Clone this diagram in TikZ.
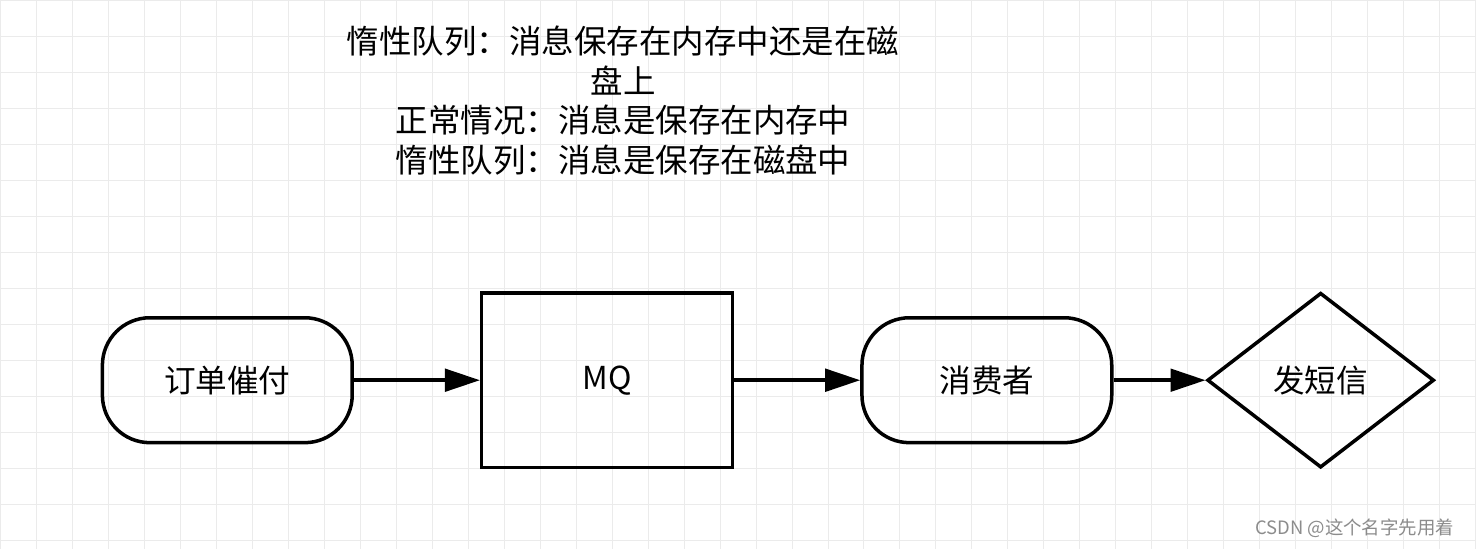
\documentclass[tikz,border=0pt]{standalone}
\usepackage{fontspec}
\setmainfont{Noto Sans CJK SC}
\usetikzlibrary{positioning}
\usetikzlibrary{arrows.meta,shapes.geometric}

\tikzset{
  box/.style={draw, line width=2pt, minimum width=5cm, font=\fontsize{18}{21}\selectfont},
  pill/.style={box, minimum height=2.5cm, rounded corners=0.95cm},
  flow/.style={line width=2pt, -{Triangle[length=0.7cm,width=0.45cm]}}
}

\begin{document}
\begin{tikzpicture}[x=0.02cm, y=-0.02cm]

% background and grid
\fill[white] (0,0) rectangle (1476,549);
\foreach \g in {0,36,...,1476}
  \draw[black!8, line width=0.5pt] (\g,0) -- (\g,549);
\foreach \g in {0,36,...,549}
  \draw[black!8, line width=0.5pt] (0,\g) -- (1476,\g);

% note
\node[align=center, font=\fontsize{18.5}{22.5}\selectfont] (note) at (623,100)
  {惰性队列：消息保存在内存中还是在磁\\盘上\\正常情况：消息是保存在内存中\\惰性队列：消息是保存在磁盘中};

% flow nodes
\node[pill] (order) at (227,380) {订单催付};
\node[box, minimum width=5.02cm, minimum height=3.5cm] (mq) at (607,380) {MQ};
\node[pill] (cons) at (987,380) {消费者};
\node[box, diamond, minimum width=4.54cm, minimum height=3.5cm, inner sep=0pt] (sms) at (1321,380) {发短信};

\draw[flow] (order) -- (mq);
\draw[flow] (mq) -- (cons);
\draw[flow] (cons) -- (sms);

% watermark
\node[text=black!45, font=\fontsize{10.5}{12}\selectfont] (mark) at (1355,528) {CSDN @这个名字先用着};
\end{tikzpicture}
\end{document}
